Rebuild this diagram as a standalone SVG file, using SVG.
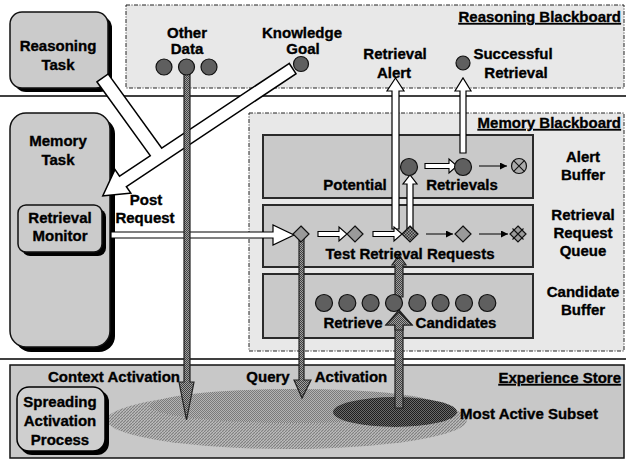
<svg xmlns="http://www.w3.org/2000/svg" width="626" height="459" viewBox="0 0 626 459">
  <style>
    text { font-family: "Liberation Sans", Arial, sans-serif; font-weight: bold; font-size: 15px; fill: #000; stroke: #000; stroke-width: 0.35; text-anchor: middle; }
    .title { text-anchor: end; text-decoration: underline; }
    .board { fill: #e8e8e8; stroke: #222; stroke-width: 1; stroke-dasharray: 4 1.5 1 1.5; }
    .panel { fill: #c9c9c9; stroke: #2a2a2a; stroke-width: 2; }
    .box { fill: #cbcbcb; stroke: #111; stroke-width: 1.5; }
    .shadow { fill: #000; }
    .dot { fill: #5f5f5f; stroke: #111; stroke-width: 1.2; }
    .dia { fill: #9a9a9a; stroke: #111; stroke-width: 1.2; }
    .sep { stroke: #000; stroke-width: 1.5; }
    .white-under { fill: #000; stroke: #000; stroke-width: 3; stroke-linejoin: miter; }
    .white-top { fill: #fff; }
    .gray { fill: url(#dither); stroke: #222; stroke-width: 1.2; }
    .thin { stroke: #000; stroke-width: 1; fill: none; marker-end: url(#tip); }
  </style>
  <defs>
    <pattern id="dither" width="2" height="2" patternUnits="userSpaceOnUse">
      <rect width="2" height="2" fill="#a0a0a0"/>
      <rect width="1" height="1" fill="#404040"/>
      <rect x="1" y="1" width="1" height="1" fill="#404040"/>
    </pattern>
    <pattern id="darkdither" width="2" height="2" patternUnits="userSpaceOnUse">
      <rect width="2" height="2" fill="#6a6a6a"/>
      <rect width="1" height="1" fill="#1e1e1e"/>
      <rect x="1" y="1" width="1" height="1" fill="#1e1e1e"/>
    </pattern>
    <pattern id="middither" width="2" height="2" patternUnits="userSpaceOnUse">
      <rect width="2" height="2" fill="#b4b4b4"/>
      <rect width="1" height="1" fill="#7a7a7a"/>
      <rect x="1" y="1" width="1" height="1" fill="#7a7a7a"/>
    </pattern>
    <pattern id="hatch" width="3" height="3" patternUnits="userSpaceOnUse">
      <rect width="3" height="3" fill="#bdbdbd"/>
      <path d="M0,3 L3,0" stroke="#7e7e7e" stroke-width="1.1"/>
    </pattern>
    <pattern id="checker" width="3" height="3" patternUnits="userSpaceOnUse">
      <rect width="3" height="3" fill="#9a9a9a"/>
      <rect width="1.5" height="1.5" fill="#333"/>
      <rect x="1.5" y="1.5" width="1.5" height="1.5" fill="#333"/>
    </pattern>
    <marker id="tip" viewBox="0 0 8 8" refX="8" refY="4" markerWidth="7" markerHeight="7" markerUnits="userSpaceOnUse" orient="auto">
      <path d="M0,0 L8,4 L0,8 Z" fill="#000"/>
    </marker>
  </defs>

  <rect width="626" height="459" fill="#fff"/>

  <!-- layer separators -->
  <line class="sep" x1="0" y1="96" x2="626" y2="96"/>
  <line class="sep" x1="0" y1="359" x2="626" y2="359"/>

  <!-- blackboards -->
  <g id="reasoning-blackboard">
    <rect class="board" x="126" y="5" width="498" height="83"/>
    <text class="title" x="621" y="22">Reasoning Blackboard</text>
  </g>
  <g id="memory-blackboard">
    <rect class="board" x="249" y="113" width="375" height="238"/>
    <text class="title" x="621" y="128">Memory Blackboard</text>
  </g>

  <!-- experience store -->
  <g id="experience-store">
    <rect x="10" y="365" width="614" height="93" fill="#c8c8c8" stroke="#111" stroke-width="1.5"/>
    <ellipse cx="287" cy="420" rx="180" ry="29" fill="url(#hatch)"/>
    <ellipse cx="295" cy="406" rx="145" ry="17" fill="url(#middither)"/>
    <ellipse cx="395" cy="412" rx="62" ry="15" fill="url(#darkdither)"/>
    <text class="title" x="621" y="383">Experience Store</text>
    <text x="114" y="382">Context Activation</text>
    <text x="268" y="382">Query</text>
    <text x="351" y="382">Activation</text>
    <text x="529" y="419">Most Active Subset</text>
  </g>

  <!-- buffers -->
  <g id="alert-buffer">
    <rect class="panel" x="263" y="135" width="270" height="63"/>
    <text x="355" y="190">Potential</text>
    <text x="462" y="190">Retrievals</text>
    <text x="583" y="162">Alert</text>
    <text x="583" y="180">Buffer</text>
  </g>
  <g id="retrieval-request-queue">
    <rect class="panel" x="263" y="205" width="270" height="62"/>
    <text x="583" y="220">Retrieval</text>
    <text x="583" y="238">Request</text>
    <text x="583" y="256">Queue</text>
  </g>
  <g id="candidate-buffer">
    <rect class="panel" x="263" y="274" width="270" height="64"/>
    <text x="583" y="297">Candidate</text>
    <text x="583" y="315">Buffer</text>
  </g>

  <!-- task boxes -->
  <g id="reasoning-task">
    <rect class="shadow" x="14" y="16" width="98" height="76" rx="12"/>
    <rect class="box" x="10" y="12" width="98" height="76" rx="12"/>
    <text x="58" y="51">Reasoning</text>
    <text x="58" y="70">Task</text>
  </g>
  <g id="memory-task">
    <rect class="shadow" x="15" y="118" width="100" height="234" rx="16"/>
    <rect class="box" x="10" y="113" width="100" height="234" rx="16"/>
    <text x="58" y="146">Memory</text>
    <text x="58" y="165">Task</text>
  </g>
  <g id="retrieval-monitor">
    <rect class="shadow" x="22" y="209" width="84" height="47" rx="8"/>
    <rect class="box" x="18" y="205" width="84" height="47" rx="8"/>
    <text x="60" y="223">Retrieval</text>
    <text x="60" y="241">Monitor</text>
  </g>
  <g id="spreading-activation">
    <rect class="shadow" x="20" y="390" width="89" height="65" rx="12"/>
    <rect x="17" y="387" width="88" height="64" rx="12" fill="#cfcfcf" stroke="#000" stroke-width="1.5"/>
    <text x="60" y="407">Spreading</text>
    <text x="60" y="426">Activation</text>
    <text x="60" y="445">Process</text>
  </g>

  <!-- connectors -->
  <g id="connectors">
    <!-- post request: two white bands merging into one arrow -->
    <polygon class="white-under" points="98,82 108,75 165,154 155,161"/>
    <polygon class="white-under" points="289,64.4 119.3,177.2 115.1,171 104,195 129.5,192.6 125.3,186.4 295,73.6"/>
    <polygon class="white-top" points="98,82 108,75 165,154 155,161"/>
    <polygon class="white-top" points="289,64.4 119.3,177.2 115.1,171 104,195 129.5,192.6 125.3,186.4 295,73.6"/>

    <!-- retrieval monitor to queue -->
    <polygon points="111,232 273,232 273,225 294,235 273,245 273,238 111,238" fill="#fff" stroke="#000" stroke-width="1.2"/>

    <!-- gray activation arrows -->
    <polygon class="gray" points="184,67 190,67 190,382 194,382 186.5,420 179,382 184,382"/>
    <polygon class="gray" points="299,234 304,234 304,380 311,380 302,398 294,380 299,380"/>
    <polygon class="gray" points="395,408 403,408 403,325 412,325 399,310 386,325 395,325"/>
    <polygon class="gray" points="395,297 403,297 403,265 406,265 399,255 392,265 395,265"/>

    <!-- white upward arrows -->
    <polygon points="392,229 392,91 387,91 395.5,78 404,91 399,91 399,229" fill="#fff" stroke="#000" stroke-width="1.2"/>
    <polygon points="460,153 460,91 455,91 463,78 471,91 466,91 466,153" fill="#fff" stroke="#000" stroke-width="1.2"/>
    <polygon points="407,229 407,184 403,184 410,175 417,184 413,184 413,229" fill="#fff" stroke="#000" stroke-width="1.2"/>

    <!-- white short arrows -->
    <polygon points="425,163.5 449,163.5 449,159 457,166 449,173 449,168.5 425,168.5" fill="#fff" stroke="#000" stroke-width="1.1"/>
    <polygon points="318,231.5 339,231.5 339,227 347,234 339,241 339,236.5 318,236.5" fill="#fff" stroke="#000" stroke-width="1.1"/>
    <polygon points="373,231.5 394,231.5 394,227 402,234 394,241 394,236.5 373,236.5" fill="#fff" stroke="#000" stroke-width="1.1"/>

    <!-- thin arrows -->
    <line class="thin" x1="479" y1="166" x2="507" y2="166"/>
    <line class="thin" x1="426" y1="234" x2="453" y2="234"/>
    <line class="thin" x1="479" y1="234" x2="508" y2="234"/>
  </g>

  <!-- reasoning blackboard items -->
  <g id="other-data">
    <circle class="dot" cx="164" cy="67" r="8"/>
    <circle class="dot" cx="186.5" cy="67" r="8"/>
    <circle class="dot" cx="209" cy="67" r="8"/>
    <text x="187" y="38">Other</text>
    <text x="187" y="54">Data</text>
  </g>
  <g id="knowledge-goal">
    <circle class="dot" cx="301" cy="64" r="7.5"/>
    <text x="302" y="38">Knowledge</text>
    <text x="303" y="54">Goal</text>
  </g>
  <g id="retrieval-alert">
    <text x="395" y="59">Retrieval</text>
    <text x="394" y="78">Alert</text>
  </g>
  <g id="successful-retrieval">
    <circle class="dot" cx="463" cy="63" r="7"/>
    <text x="513" y="59">Successful</text>
    <text x="516" y="78">Retrieval</text>
  </g>
  <g id="post-request-label">
    <text x="146" y="205">Post</text>
    <text x="145" y="223">Request</text>
  </g>

  <!-- alert buffer items -->
  <g id="potential-retrievals">
    <circle class="dot" cx="409" cy="167" r="8.5"/>
    <circle class="dot" cx="463" cy="167" r="8.5"/>
    <circle cx="519" cy="166" r="7.5" fill="#ababab" stroke="#111" stroke-width="1.2"/>
    <path d="M513.7,160.7 L524.3,171.3 M524.3,160.7 L513.7,171.3" stroke="#111" stroke-width="1.1"/>
  </g>

  <!-- request queue items -->
  <g id="test-retrieval-requests">
    <polygon class="dia" points="301,226 309,234 301,242 293,234"/>
    <polygon class="dia" points="355,226 363,234 355,242 347,234"/>
    <polygon points="410,226 418,234 410,242 402,234" fill="url(#checker)" stroke="#111" stroke-width="1.2"/>
    <polygon class="dia" points="463,226 471,234 463,242 455,234"/>
    <polygon class="dia" points="518,226 526,234 518,242 510,234"/>
    <path d="M512.5,228.5 L523.5,239.5 M523.5,228.5 L512.5,239.5" stroke="#111" stroke-width="1.1"/>
    <text x="410" y="259">Test Retrieval Requests</text>
  </g>

  <!-- candidate buffer items -->
  <g id="retrieve-candidates">
    <circle class="dot" cx="324" cy="303" r="8.5"/>
    <circle class="dot" cx="347.3" cy="303" r="8.5"/>
    <circle class="dot" cx="370.6" cy="303" r="8.5"/>
    <circle class="dot" cx="394" cy="303" r="8.5"/>
    <circle class="dot" cx="417.3" cy="303" r="8.5"/>
    <circle class="dot" cx="440.6" cy="303" r="8.5"/>
    <circle class="dot" cx="464" cy="303" r="8.5"/>
    <circle class="dot" cx="487.3" cy="303" r="8.5"/>
    <polygon class="gray" points="395,330 403,330 403,325 412,325 399,312 386,325 395,325"/>
    <text x="353" y="328">Retrieve</text>
    <text x="456" y="328">Candidates</text>
  </g>
</svg>
